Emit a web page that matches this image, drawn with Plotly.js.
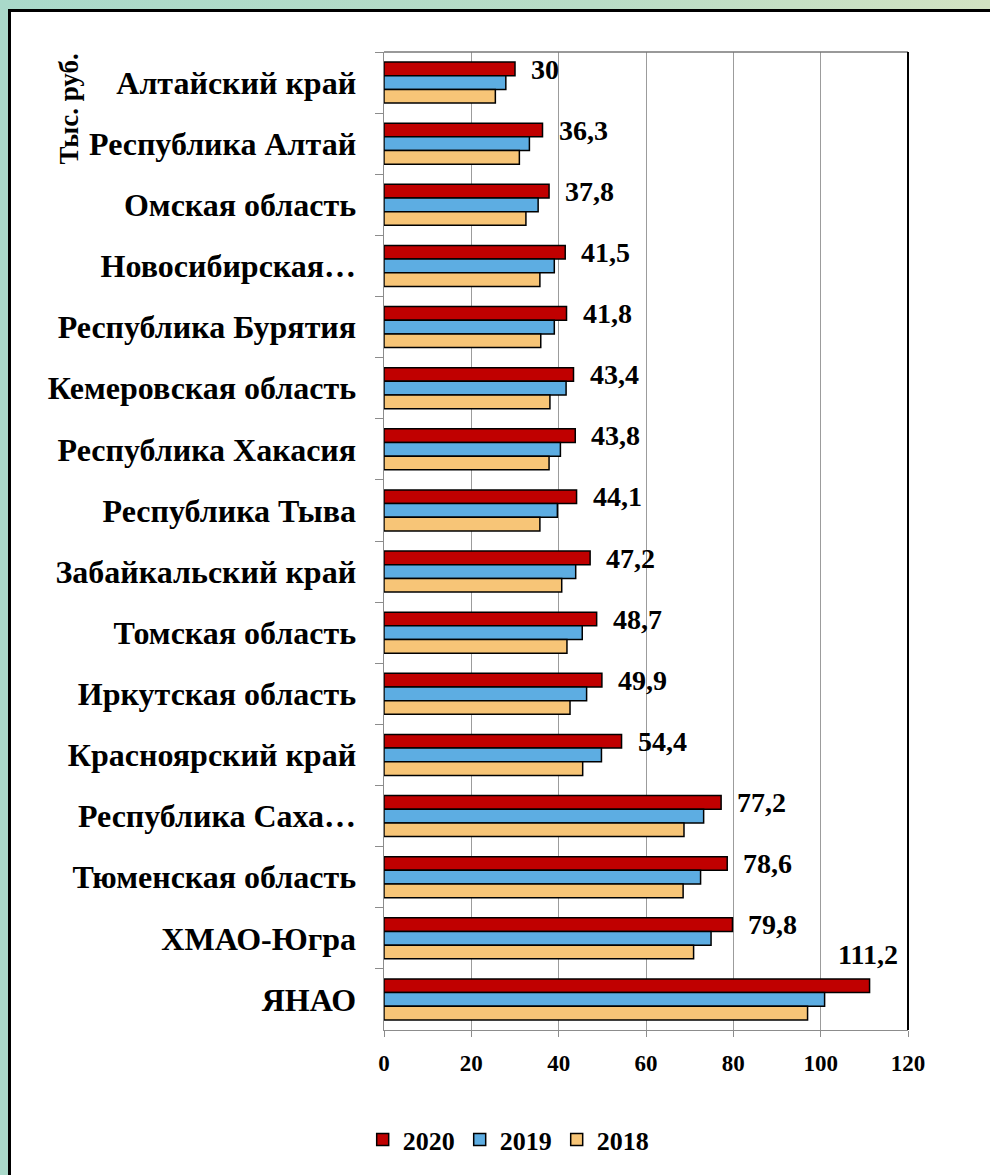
<!DOCTYPE html>
<html>
<head>
<meta charset="utf-8">
<script src="https://cdn.plot.ly/plotly-3.0.1.min.js"></script>
<style>
  html, body { margin: 0; padding: 0; width: 990px; height: 1175px; overflow: hidden; }
  body { background: linear-gradient(90deg, #a9d9ca 0%, #b8dcc6 60%, #d2e2c2 100%); position: relative; }
  #frame { position: absolute; left: 8px; top: 9px; width: 990px; height: 1200px; background: #ffffff;
           border-left: 3px solid #000; border-top: 3px solid #000; }
  #chart { position: absolute; left: 0; top: 0; width: 990px; height: 1175px; }
</style>
</head>
<body>
<div id="frame"></div>
<div id="chart"></div>
<script>
const categories = [
  "Алтайский край", "Республика Алтай", "Омская область", "Новосибирская…",
  "Республика Бурятия", "Кемеровская область", "Республика Хакасия", "Республика Тыва",
  "Забайкальский край", "Томская область", "Иркутская область", "Красноярский край",
  "Республика Саха…", "Тюменская область", "ХМАО-Югра", "ЯНАО"
];
const values2020 = [30, 36.3, 37.8, 41.5, 41.8, 43.4, 43.8, 44.1, 47.2, 48.7, 49.9, 54.4, 77.2, 78.6, 79.8, 111.2];
const values2019 = [27.9, 33.3, 35.3, 39.0, 39.0, 41.7, 40.4, 39.7, 43.9, 45.4, 46.4, 49.8, 73.2, 72.5, 74.9, 100.9];
const values2018 = [25.5, 31.0, 32.5, 35.7, 35.9, 38.0, 37.8, 35.7, 40.7, 41.9, 42.6, 45.5, 68.7, 68.5, 70.9, 97.0];
const seriesNames = ["2020", "2019", "2018"];
const xTicks = [0, 20, 40, 60, 80, 100, 120];

const font = "'Liberation Serif', 'Times New Roman', serif";
const colors = ["#c00000", "#5dade2", "#f7c577"];
const allValues = [values2020, values2019, values2018];

const traces = allValues.map((vals, i) => ({
  type: "bar",
  orientation: "h",
  name: seriesNames[i],
  x: vals,
  y: categories,
  marker: { color: colors[i], line: { color: "#000", width: 1.5 } },
  hoverinfo: "x+y+name"
}));

const fmt = v => String(v).replace(".", ",");
const annotations = categories.map((c, i) => {
  const v = values2020[i];
  const above = v > 100;
  return {
    x: v, y: c, xref: "x", yref: "y",
    text: fmt(v), showarrow: false,
    xanchor: above ? "center" : "left",
    yanchor: "middle",
    xshift: above ? -2 : 14,
    yshift: above ? 45 : 13.5,
    font: { family: font, size: 28, color: "#000", weight: "bold" }
  };
});
annotations.push({
  text: "Тыс. руб.", xref: "paper", yref: "paper", x: -0.603, y: 1.0,
  xanchor: "center", yanchor: "top", textangle: -90, showarrow: false,
  font: { family: font, size: 27, color: "#000", weight: "bold" }
});

const layout = {
  width: 990, height: 1175,
  paper_bgcolor: "rgba(0,0,0,0)", plot_bgcolor: "#fff",
  margin: { l: 384, r: 82, t: 52, b: 145 },
  barmode: "group", bargap: 0.33, bargroupgap: 0,
  showlegend: true,
  legend: {
    orientation: "h", x: 0.237, xanchor: "center", y: -0.112, yanchor: "middle",
    font: { family: font, size: 26, color: "#000", weight: "bold" },
    itemwidth: 30, tracegroupgap: 0, traceorder: "normal"
  },
  xaxis: {
    range: [0, 120], tickvals: xTicks, ticktext: xTicks.map(String),
    showgrid: true, gridcolor: "#9c9c9c", gridwidth: 1,
    zeroline: false, showline: true, linecolor: "#8c8c8c", linewidth: 1,
    ticks: "outside", ticklen: 6, tickcolor: "#8c8c8c",
    ticklabelstandoff: 6,
    tickfont: { family: font, size: 23, color: "#000", weight: "bold" },
    fixedrange: true
  },
  yaxis: {
    range: [categories.length - 0.5, -0.5], type: "category",
    showgrid: false, zeroline: false,
    showline: true, linecolor: "#8c8c8c", linewidth: 1.5,
    ticks: "outside", ticklen: 8, tickcolor: "#8c8c8c", tickson: "boundaries",
    ticklabelstandoff: 20,
    tickfont: { family: font, size: 32, color: "#000", weight: "bold" },
    fixedrange: true
  },
  shapes: [
    { type: "line", xref: "paper", yref: "paper", x0: 0, x1: 1, y0: 1, y1: 1, line: { color: "#777", width: 1.5 } },
    { type: "line", xref: "paper", yref: "paper", x0: 1, x1: 1, y0: 0, y1: 1, line: { color: "#000", width: 2 } }
  ],
  annotations: annotations
};

Plotly.newPlot("chart", traces, layout, { displayModeBar: false, staticPlot: true });
</script>
</body>
</html>
